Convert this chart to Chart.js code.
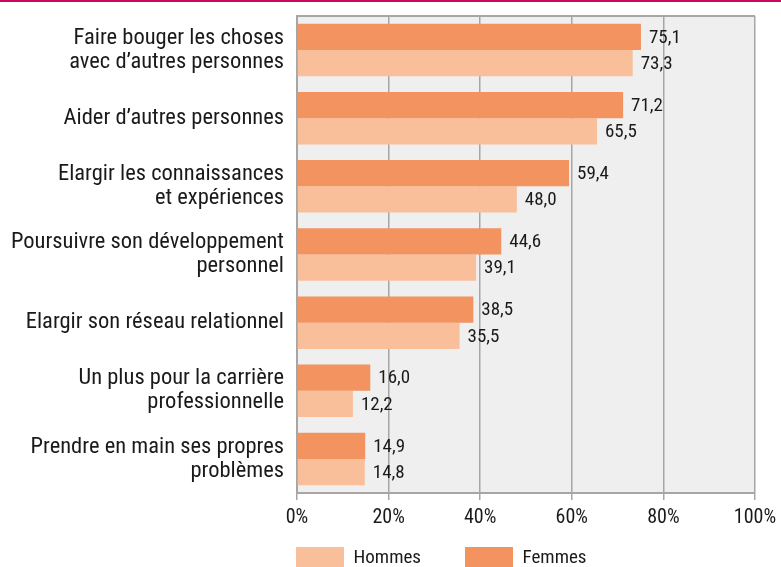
<!DOCTYPE html>
<html>
<head>
<meta charset="utf-8">
<script src="https://cdn.jsdelivr.net/npm/chart.js@4"></script>
<style>
html,body{margin:0;padding:0;background:#fff;}
#wrap{position:relative;width:781px;height:567px;}
</style>
</head>
<body>
<div id="wrap"><canvas id="c"></canvas></div>
<script>
const categories = [
  ["Faire bouger les choses", "avec d’autres personnes"],
  ["Aider d’autres personnes"],
  ["Elargir les connaissances", "et expériences"],
  ["Poursuivre son développement", "personnel"],
  ["Elargir son réseau relationnel"],
  ["Un plus pour la carrière", "professionnelle"],
  ["Prendre en main ses propres", "problèmes"]
];
const femmes = [75.1, 71.2, 59.4, 44.6, 38.5, 16.0, 14.9];
const hommes = [73.3, 65.5, 48.0, 39.1, 35.5, 12.2, 14.8];
const xTicks = [0, 20, 40, 60, 80, 100];

const FONT = '"Liberation Sans Narrow", "Roboto Condensed", "DejaVu Sans Condensed", "Liberation Sans", sans-serif';
const GRID = '#a6a6a6';
const LEGEND_PAD = 44;

const decor = {
  id: 'decor',
  beforeLayout(chart) {
    const lg = chart.legend;
    if (lg && !lg._wrappedFit) {
      const orig = lg.fit;
      lg.fit = function () { orig.call(this); this.height = 38; };
      lg._wrappedFit = true;
    }
  },
  afterLayout(chart) {
    const lg = chart.legend;
    if (lg) {
      const dx = 296 - (lg.left + LEGEND_PAD);
      lg.left += dx; lg.right += dx;
      lg.top = 547 - LEGEND_PAD;
      lg.bottom = chart.height + 40;
      lg.height = lg.bottom - lg.top;
    }
  },
  beforeDraw(chart) {
    const {ctx, chartArea: a} = chart;
    ctx.save();
    ctx.fillStyle = '#c8085a';
    ctx.fillRect(0, 0, chart.width, 2);
    ctx.fillStyle = '#efefef';
    ctx.fillRect(a.left, a.top, a.right - a.left, a.bottom - a.top);
    ctx.restore();
  },
  afterDraw(chart) {
    const {ctx, chartArea: a} = chart;
    ctx.save();
    ctx.strokeStyle = GRID;
    ctx.lineWidth = 2;
    ctx.beginPath();
    ctx.moveTo(a.left - 1, a.top);
    ctx.lineTo(a.right, a.top);
    ctx.stroke();
    ctx.restore();
  }
};

const valueLabels = {
  id: 'valueLabels',
  afterDatasetsDraw(chart) {
    const {ctx} = chart;
    ctx.save();
    ctx.font = '19px ' + FONT;
    ctx.fillStyle = '#1a1a1a';
    ctx.textAlign = 'left';
    ctx.textBaseline = 'middle';
    chart.data.datasets.forEach((ds, i) => {
      chart.getDatasetMeta(i).data.forEach((bar, j) => {
        const v = ds.data[j];
        ctx.fillText(v.toFixed(1).replace('.', ','), bar.x + 8, bar.y + 1);
      });
    });
    ctx.restore();
  }
};

new Chart(document.getElementById('c'), {
  type: 'bar',
  data: {
    labels: categories,
    datasets: [
      {label: 'Femmes', data: femmes, backgroundColor: '#f29360', categoryPercentage: 0.77, barPercentage: 1.0},
      {label: 'Hommes', data: hommes, backgroundColor: '#f8bf9a', categoryPercentage: 0.77, barPercentage: 1.0}
    ]
  },
  options: {
    indexAxis: 'y',
    responsive: true,
    maintainAspectRatio: false,
    animation: false,
    devicePixelRatio: 1,
    layout: {padding: {top: 16, right: 26, left: 0, bottom: 0}},
    plugins: {
      tooltip: {enabled: false},
      legend: {
        position: 'bottom',
        align: 'start',
        reverse: true,
        labels: {
          boxWidth: 48,
          boxHeight: 22,
          padding: LEGEND_PAD,
          color: '#1a1a1a',
          font: {size: 19, family: FONT}
        }
      }
    },
    scales: {
      x: {
        min: 0, max: 100,
        afterBuildTicks(s) { s.ticks = xTicks.map(v => ({value: v})); },
        afterFit(s) { s.height = 36; s.paddingLeft = 0; s.paddingRight = 0; },
        ticks: {
          callback: v => v + '%',
          color: '#1a1a1a',
          padding: 6,
          font: {size: 20, family: FONT},
          maxRotation: 0
        },
        grid: {color: GRID, lineWidth: 1.5, drawTicks: true, tickLength: 7, tickColor: GRID},
        border: {display: true, color: GRID, width: 2}
      },
      y: {
        afterFit(s) { s.width = 297; s.paddingTop = 0; s.paddingBottom = 0; },
        ticks: {
          color: '#1a1a1a',
          padding: 13,
          font: {size: 22.5, family: FONT, lineHeight: 1.07}
        },
        grid: {display: false, drawTicks: false},
        border: {display: true, color: GRID, width: 2}
      }
    }
  },
  plugins: [decor, valueLabels]
});
</script>
</body>
</html>
